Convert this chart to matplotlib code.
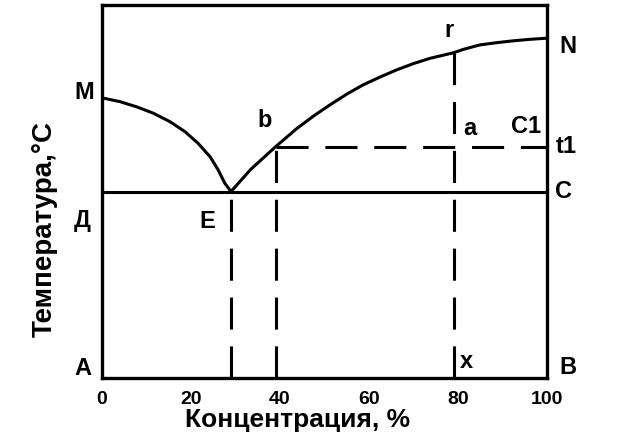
import matplotlib
matplotlib.use('Agg')
import matplotlib.pyplot as plt

# кривая ликвидуса M-E-N (концентрация %, температура в усл. ед.)
liq_left_x = [0, 4.0, 7.8, 11.5, 15.3, 18.7, 21.6, 24.3, 26.1, 27.6, 29]
liq_left_y = [75.1, 74.1, 72.7, 71.0, 68.7, 66.0, 62.9, 59.3, 55.8, 52.2, 50]
liq_right_x = [29, 33.4, 39, 43.8, 47.5, 51.2, 55.0, 58.7, 62.5, 66.2, 70.0,
               73.7, 79, 81.2, 84.9, 88.7, 92.4, 96.2, 100]
liq_right_y = [50, 55.9, 62.0, 66.9, 70.2, 73.2, 76.1, 78.6, 80.7, 82.6, 84.3,
               85.7, 87.2, 88.1, 89.3, 89.9, 90.4, 90.8, 91.1]

eutectic_t = 50      # линия ДC
t1 = 62              # линия t1
x_E, x_b, x_r = 29, 39, 79
ticks = [0, 20, 40, 60, 80, 100]

plt.rcParams['font.family'] = ['Liberation Sans', 'DejaVu Sans']
plt.rcParams['font.weight'] = 'bold'

fig = plt.figure(figsize=(6.23, 4.37), dpi=100)
ax = fig.add_axes([102/623, 1-378/437, 445/623, 373/437])

lw = 2.2
kw = dict(color='black', lw=lw, solid_joinstyle='round', solid_capstyle='butt')
ax.plot(liq_left_x, liq_left_y, **kw)
ax.plot(liq_right_x, liq_right_y, **kw)
ax.plot([0, 100], [eutectic_t, eutectic_t], **kw)

dash = (10.5, 5.5)
ax.plot([x_E, x_E], [0, eutectic_t], color='black', lw=lw, dashes=dash)
ax.plot([x_b, x_b], [0, t1], color='black', lw=lw, dashes=dash)
ax.plot([x_r, x_r], [0, 87.2], color='black', lw=lw, dashes=dash)
ax.plot([x_b, 100], [t1, t1], color='black', lw=lw, dashes=dash)

ax.set_xlim(0, 100)
ax.set_ylim(0, 100)
for s in ax.spines.values():
    s.set_linewidth(2.4)
ax.set_yticks([])
ax.set_xticks(ticks)
ax.set_xticklabels([str(t) for t in ticks],
                   family=['Liberation Sans Narrow', 'Liberation Sans'],
                   fontsize=14, fontweight='bold')
ax.tick_params(axis='x', length=0, pad=9)

# подписи точек
labels = [
    ('M', -4.0, 74.8), ('N', 104.7, 87.1), ('r', 78.0, 91.4),
    ('b', 36.6, 67.3), ('a', 82.7, 65.1), ('C1', 95.3, 65.7),
    ('t1', 104.3, 60.3), ('C', 103.8, 48.3), ('E', 23.6, 40.2),
    ('Д', -4.5, 40.5), ('A', -4.3, 0.8), ('B', 104.7, 1.1),
    ('x', 82.0, 2.7),
]
for txt, lx, ly in labels:
    ax.text(lx, ly, txt, ha='center', va='baseline', fontsize=17,
            fontweight='bold', clip_on=False)

fig.text(298/623, 1-427/437, 'Концентрация, %', ha='center', va='baseline',
         fontsize=19, fontweight='bold')
fig.text(45/623, 1-229/437, 'Температура,°C', ha='center', va='center',
         rotation=90, fontsize=20, fontweight='bold')

fig.savefig('out.png', dpi=100)
